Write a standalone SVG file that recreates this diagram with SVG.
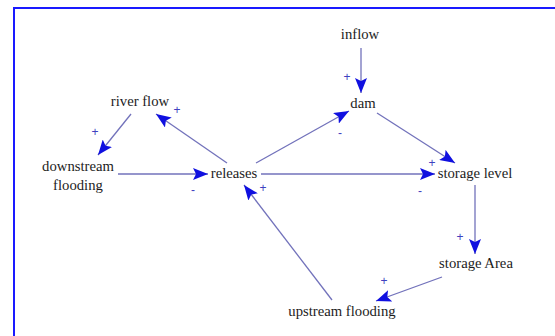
<svg xmlns="http://www.w3.org/2000/svg" width="555" height="336" viewBox="0 0 555 336">
<defs>
<style>
.n{font-family:"Liberation Serif","Times New Roman",serif;font-size:14.7px;fill:#1c1c1c;text-anchor:middle}
.s{font-family:"Liberation Sans",Arial,sans-serif;font-size:12px;fill:#4040c0;text-anchor:middle}
.c{stroke:#7272bb;stroke-width:1.3;fill:none;marker-end:url(#ah)}
</style>
<marker id="ah" markerUnits="userSpaceOnUse" markerWidth="16" markerHeight="12" refX="15" refY="6" orient="auto">
<path d="M0,0 L15,6 L0,12 L3,6 z" fill="#1010e0"/>
</marker>
</defs>
<rect x="0" y="0" width="555" height="336" fill="#fff"/>
<rect x="14" y="8" width="560" height="345" fill="none" stroke="#1a1aff" stroke-width="2"/>
<g id="connectors">
<line class="c" x1="361" y1="48" x2="361" y2="93"/>
<line class="c" x1="131" y1="114" x2="98" y2="155"/>
<line class="c" x1="227" y1="163" x2="156" y2="114"/>
<line class="c" x1="256" y1="163" x2="349" y2="111"/>
<line class="c" x1="377" y1="113" x2="455" y2="163"/>
<line class="c" x1="118" y1="174" x2="208" y2="174"/>
<line class="c" x1="261" y1="174" x2="435" y2="174"/>
<line class="c" x1="475" y1="185" x2="475" y2="254"/>
<line class="c" x1="442" y1="277" x2="376" y2="301"/>
<line class="c" x1="332" y1="300" x2="244" y2="185"/>
<text class="s" x="347" y="81">+</text>
<text class="s" x="95" y="136">+</text>
<text class="s" x="177" y="114">+</text>
<text class="s" x="340" y="137">-</text>
<text class="s" x="432" y="167">+</text>
<text class="s" x="193" y="194">-</text>
<text class="s" x="420" y="195">-</text>
<text class="s" x="460" y="241">+</text>
<text class="s" x="384" y="285">+</text>
<text class="s" x="263" y="192">+</text>
</g>
<g id="inflow"><text class="n" x="360" y="39">inflow</text></g>
<g id="dam"><text class="n" x="363" y="108">dam</text></g>
<g id="river-flow"><text class="n" x="140" y="106">river flow</text></g>
<g id="downstream-flooding"><text class="n" x="78" y="171">downstream</text><text class="n" x="78" y="190">flooding</text></g>
<g id="releases"><text class="n" x="234" y="178">releases</text></g>
<g id="storage-level"><text class="n" x="475" y="178">storage level</text></g>
<g id="storage-area"><text class="n" x="476" y="268">storage Area</text></g>
<g id="upstream-flooding"><text class="n" x="342" y="316">upstream flooding</text></g>
</svg>
